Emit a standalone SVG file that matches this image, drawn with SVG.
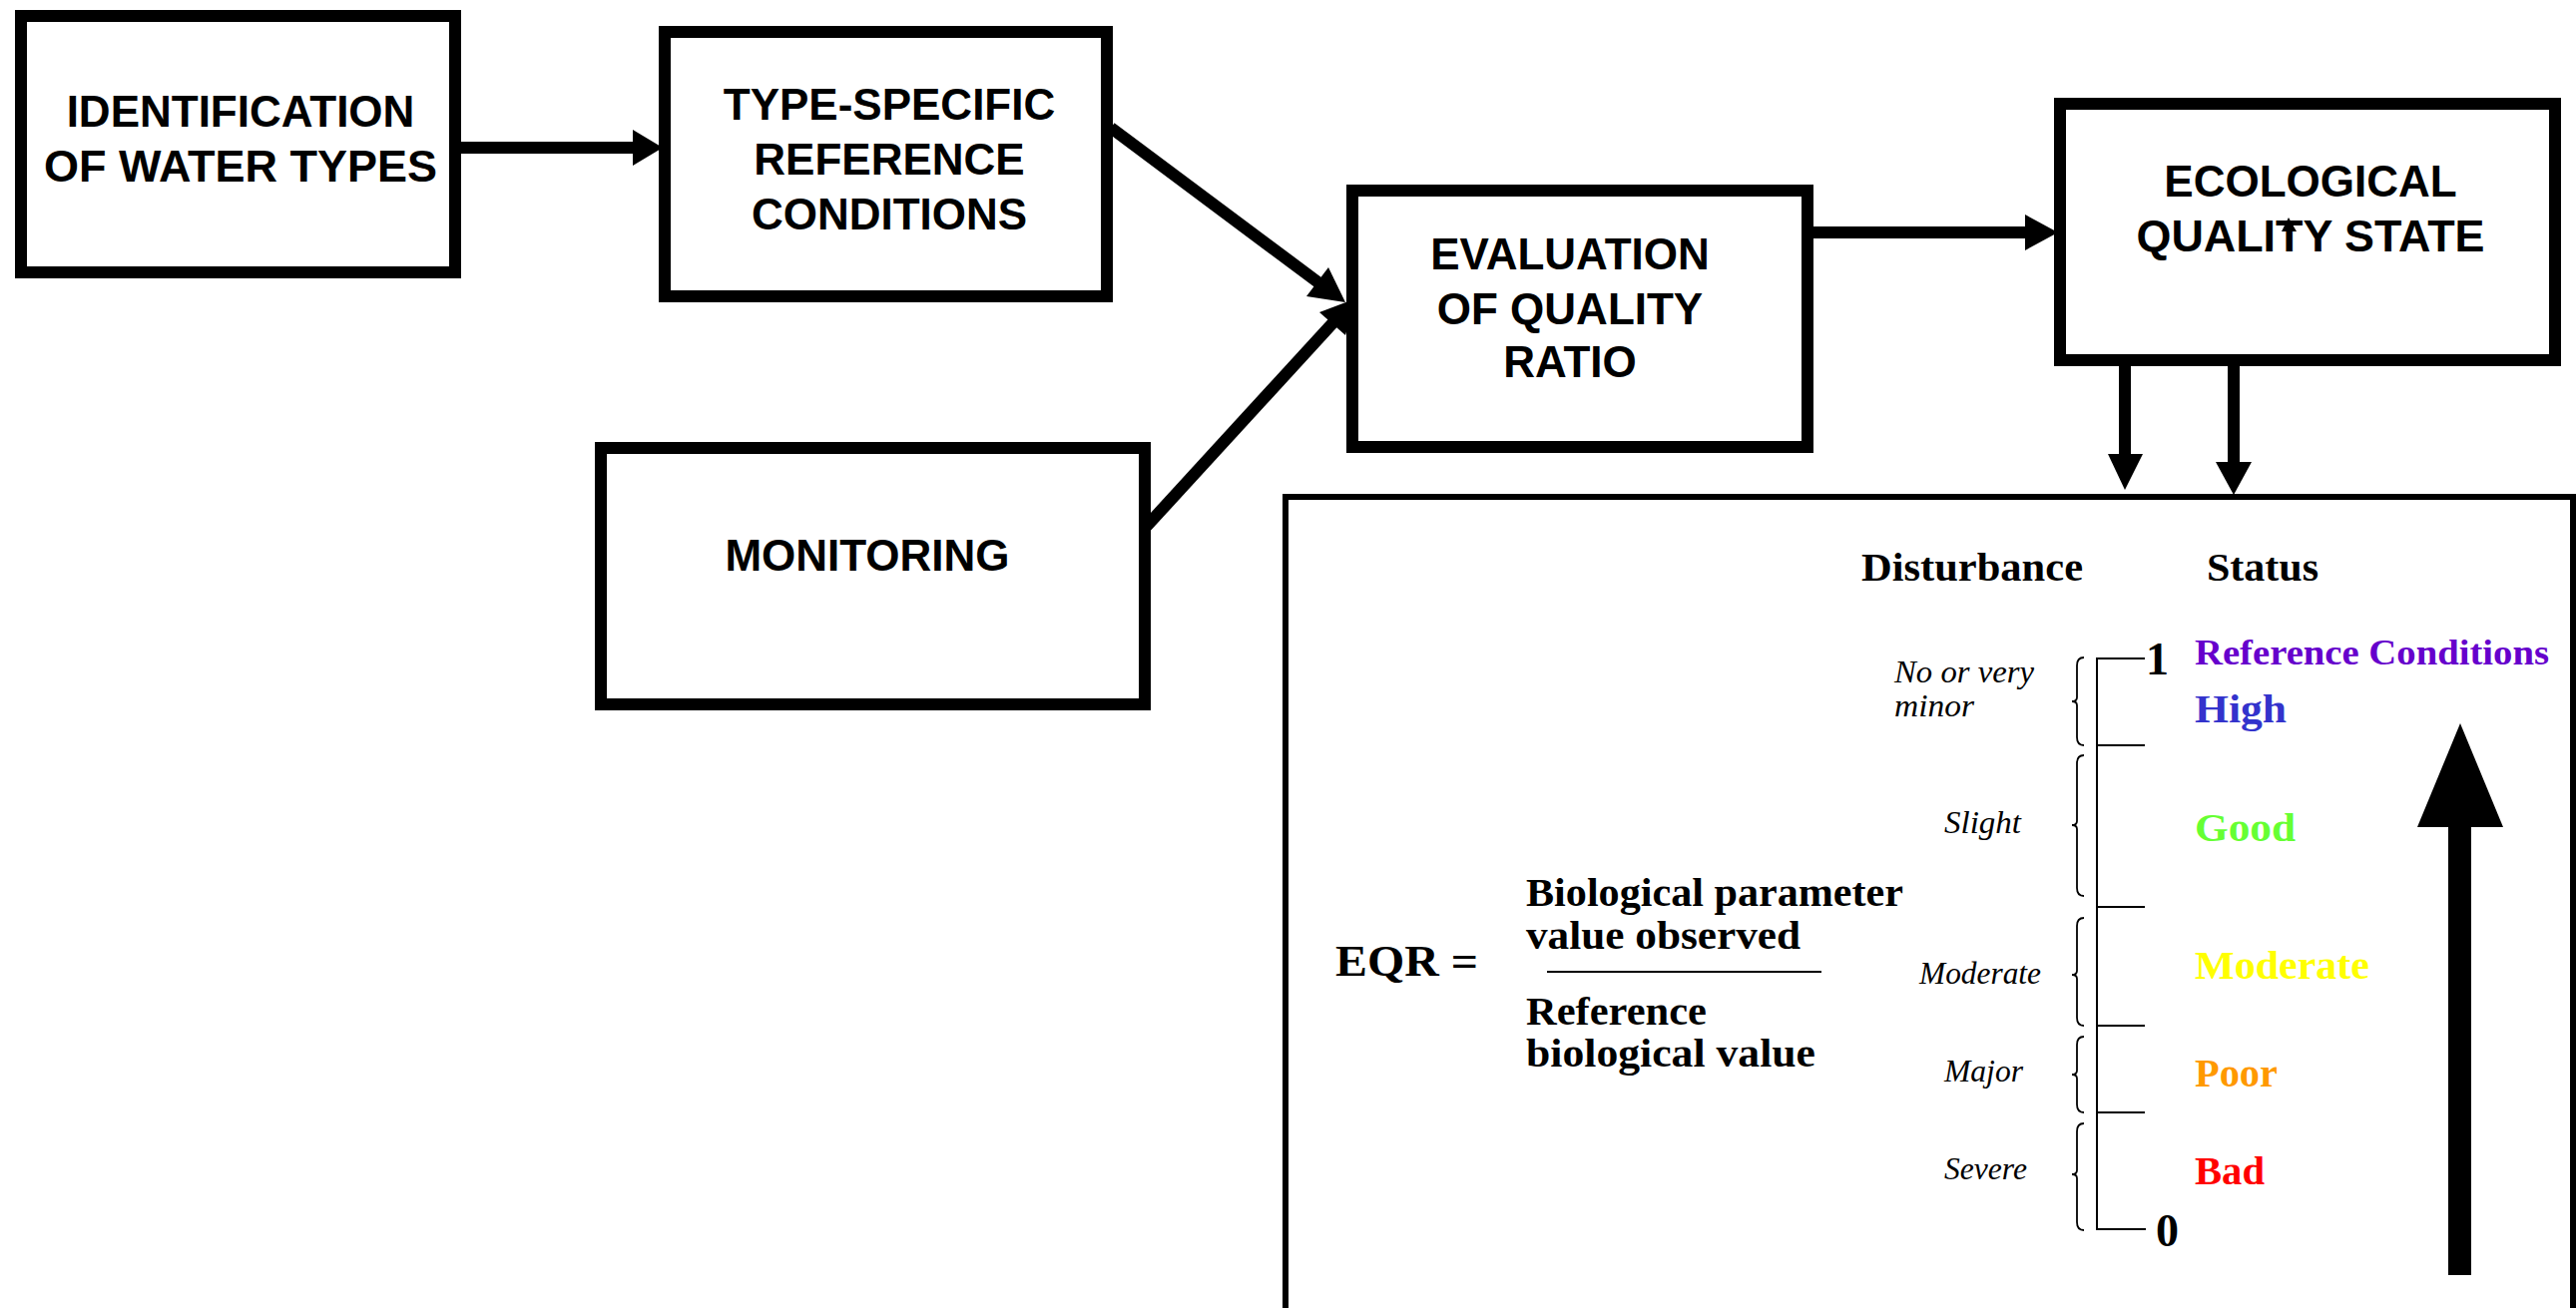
<svg xmlns="http://www.w3.org/2000/svg" width="2581" height="1311" viewBox="0 0 2581 1311">
<style>
.box{fill:#fff;stroke:#000;stroke-width:12}
.bt{font-family:"Liberation Sans",Arial,sans-serif;font-weight:bold;font-size:44px;fill:#000;text-anchor:middle}
.conn{stroke:#000;stroke-width:12;fill:none}
.head{fill:#000;stroke:none}
.sb{font-family:"Liberation Serif","Times New Roman",serif;font-weight:bold;font-size:40px}
.k{fill:#000}
.big{font-size:46px}
.eqr{font-size:44px}
.rc{font-size:36px}
.si{font-family:"Liberation Serif","Times New Roman",serif;font-style:italic;font-size:31px;fill:#000}
.thin{stroke:#000;stroke-width:2;fill:none}
.brace{stroke:#000;stroke-width:1.8;fill:none}
.c-ref{fill:#6600cc}
.c-high{fill:#3333cc}
.c-good{fill:#66ff33}
.c-mod{fill:#ffff00}
.c-poor{fill:#ff9900}
.c-bad{fill:#ff0000}
</style>
<rect x="0" y="0" width="2581" height="1311" fill="#fff"/>

<g id="connectors">
  <line class="conn" x1="462" y1="148" x2="636" y2="148"/>
  <polygon class="head" points="634,130 664,148 634,166"/>
  <line class="conn" x1="1113" y1="128" x2="1322" y2="284"/>
  <polygon class="head" points="1309,297 1348,303 1331,268"/>
  <line class="conn" x1="1140" y1="537" x2="1337" y2="322"/>
  <polygon class="head" points="1322,313 1359,299 1348,336"/>
  <line class="conn" x1="1817" y1="233" x2="2031" y2="233"/>
  <polygon class="head" points="2029,215 2062,233 2029,251"/>
  <line class="conn" x1="2129" y1="319" x2="2129" y2="457"/>
  <polygon class="head" points="2112,455 2147,455 2129,491"/>
  <line class="conn" x1="2238" y1="319" x2="2238" y2="465"/>
  <polygon class="head" points="2220,463 2256,463 2238,496"/>
</g>

<g id="node-identification">
  <rect class="box" x="21" y="16" width="435" height="257"/>
  <text class="bt" x="241" y="127">IDENTIFICATION</text>
  <text class="bt" x="241" y="182" textLength="394" lengthAdjust="spacingAndGlyphs">OF WATER TYPES</text>
</g>

<g id="node-reference">
  <rect class="box" x="666" y="32" width="443" height="265"/>
  <text class="bt" x="891" y="120">TYPE-SPECIFIC</text>
  <text class="bt" x="891" y="175">REFERENCE</text>
  <text class="bt" x="891" y="230">CONDITIONS</text>
</g>

<g id="node-evaluation">
  <rect class="box" x="1355" y="191" width="456" height="257"/>
  <text class="bt" x="1573" y="270">EVALUATION</text>
  <text class="bt" x="1573" y="325">OF QUALITY</text>
  <text class="bt" x="1573" y="378">RATIO</text>
</g>

<g id="node-monitoring">
  <rect class="box" x="602" y="449" width="545" height="257"/>
  <text class="bt" x="869" y="572">MONITORING</text>
</g>

<g id="node-ecological">
  <rect class="box" x="2064" y="104" width="496" height="257"/>
  <text class="bt" x="2315" y="197">ECOLOGICAL</text>
  <text class="bt" x="2315" y="252" textLength="349" lengthAdjust="spacingAndGlyphs">QUALITY STATE</text>
  <polygon class="head" points="2293,218 2286,232 2301,232"/>
</g>

<g id="node-eqr-panel">
  <rect x="1288" y="498" width="1290" height="900" fill="#fff" stroke="#000" stroke-width="6"/>
  <text class="sb k" x="1865" y="582" textLength="222" lengthAdjust="spacingAndGlyphs">Disturbance</text>
  <text class="sb k" x="2211" y="582" textLength="112" lengthAdjust="spacingAndGlyphs">Status</text>

  <text class="sb k eqr" x="1338" y="978" textLength="143" lengthAdjust="spacingAndGlyphs">EQR =</text>
  <text class="sb k" x="1529" y="908" textLength="378" lengthAdjust="spacingAndGlyphs">Biological parameter</text>
  <text class="sb k" x="1529" y="951" textLength="275" lengthAdjust="spacingAndGlyphs">value observed</text>
  <line class="thin" x1="1550" y1="974" x2="1825" y2="974"/>
  <text class="sb k" x="1529" y="1027" textLength="181" lengthAdjust="spacingAndGlyphs">Reference</text>
  <text class="sb k" x="1529" y="1069" textLength="290" lengthAdjust="spacingAndGlyphs">biological value</text>

  <text class="si" x="1898" y="684" textLength="140" lengthAdjust="spacingAndGlyphs">No or very</text>
  <text class="si" x="1898" y="718" textLength="80" lengthAdjust="spacingAndGlyphs">minor</text>
  <text class="si" x="1948" y="835" textLength="77" lengthAdjust="spacingAndGlyphs">Slight</text>
  <text class="si" x="1923" y="986" textLength="122" lengthAdjust="spacingAndGlyphs">Moderate</text>
  <text class="si" x="1948" y="1084" textLength="79" lengthAdjust="spacingAndGlyphs">Major</text>
  <text class="si" x="1948" y="1182" textLength="83" lengthAdjust="spacingAndGlyphs">Severe</text>

  <path class="brace" d="M2088,659 Q2081,659 2081,667 L2081,699 Q2081,703 2076,703 Q2081,703 2081,707 L2081,739 Q2081,747 2088,747"/>
  <path class="brace" d="M2088,757 Q2081,757 2081,765 L2081,823 Q2081,827 2076,827 Q2081,827 2081,831 L2081,890 Q2081,898 2088,898"/>
  <path class="brace" d="M2088,920 Q2081,920 2081,928 L2081,973 Q2081,977 2076,977 Q2081,977 2081,981 L2081,1020 Q2081,1028 2088,1028"/>
  <path class="brace" d="M2088,1039 Q2081,1039 2081,1047 L2081,1073 Q2081,1077 2076,1077 Q2081,1077 2081,1081 L2081,1107 Q2081,1115 2088,1115"/>
  <path class="brace" d="M2088,1126 Q2081,1126 2081,1134 L2081,1173 Q2081,1177 2076,1177 Q2081,1177 2081,1181 L2081,1225 Q2081,1233 2088,1233"/>

  <path class="thin" d="M2149,660 L2101,660 L2101,1232 L2150,1232"/>
  <line class="thin" x1="2101" y1="747" x2="2149" y2="747"/>
  <line class="thin" x1="2101" y1="909" x2="2149" y2="909"/>
  <line class="thin" x1="2101" y1="1028" x2="2149" y2="1028"/>
  <line class="thin" x1="2101" y1="1115" x2="2149" y2="1115"/>
  <text class="sb k big" x="2150" y="676">1</text>
  <text class="sb k big" x="2160" y="1249">0</text>

  <text class="sb c-ref rc" x="2199" y="666" textLength="355" lengthAdjust="spacingAndGlyphs">Reference Conditions</text>
  <text class="sb c-high" x="2199" y="724" textLength="92" lengthAdjust="spacingAndGlyphs">High</text>
  <text class="sb c-good" x="2199" y="843" textLength="101" lengthAdjust="spacingAndGlyphs">Good</text>
  <text class="sb c-mod" x="2199" y="981" textLength="175" lengthAdjust="spacingAndGlyphs">Moderate</text>
  <text class="sb c-poor" x="2199" y="1089" textLength="83" lengthAdjust="spacingAndGlyphs">Poor</text>
  <text class="sb c-bad" x="2199" y="1187" textLength="70" lengthAdjust="spacingAndGlyphs">Bad</text>

  <rect x="2453" y="827" width="23" height="451" fill="#000"/>
  <polygon class="head" points="2465,725 2508,829 2422,829"/>
</g>
</svg>
